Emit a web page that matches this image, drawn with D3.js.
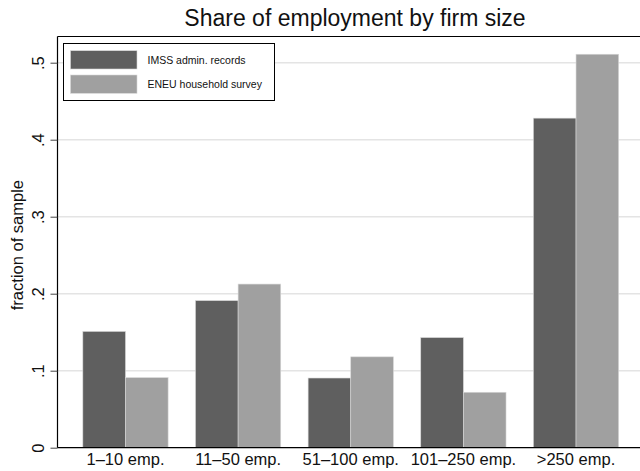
<!DOCTYPE html>
<html>
<head>
<meta charset="utf-8">
<script src="https://cdn.jsdelivr.net/npm/d3@7"></script>
<style>
  html, body { margin: 0; padding: 0; background: #fff; }
  svg { display: block; font-family: "Liberation Sans", Arial, sans-serif; }
</style>
</head>
<body>
<svg id="chart" width="640" height="471"></svg>
<script>
// Firm-size categories and employment shares from the two sources
const categories = ["1\u201310 emp.", "11\u201350 emp.", "51\u2013100 emp.", "101\u2013250 emp.", ">250 emp."];
const seriesNames = ["IMSS admin. records", "ENEU household survey"];
const imssValues = [0.151, 0.191, 0.0905, 0.143, 0.428];
const eneuValues = [0.091, 0.2125, 0.118, 0.072, 0.511];
const yTicks = [0, 0.1, 0.2, 0.3, 0.4, 0.5];
const yTickLabels = ["0", ".1", ".2", ".3", ".4", ".5"];
const seriesColors = ["#5f5f5f", "#a0a0a0"];

const svg = d3.select("#chart");
const W = 640, H = 471;
const plot = { left: 57.5, right: 644, top: 36.5, bottom: 447.7 };

const x = d3.scaleBand()
  .domain(categories)
  .range([plot.left, plot.right])
  .paddingInner(0.243)
  .paddingOuter(0.225);

const xSub = d3.scaleBand()
  .domain(seriesNames)
  .range([0, x.bandwidth()]);

const y = d3.scaleLinear()
  .domain([0, 0.1])
  .range([plot.bottom, plot.bottom - 77]);

// Title
svg.append("text")
  .attr("x", 355)
  .attr("y", 26)
  .attr("text-anchor", "middle")
  .attr("font-size", 23)
  .attr("fill", "#111")
  .text("Share of employment by firm size");

// Horizontal grid lines
svg.append("g")
  .selectAll("line")
  .data(yTicks.filter(t => t > 0))
  .join("line")
  .attr("x1", plot.left)
  .attr("x2", W)
  .attr("y1", d => y(d))
  .attr("y2", d => y(d))
  .attr("stroke", "#e4e4e4")
  .attr("stroke-width", 1.4);

// Top frame line
svg.append("line")
  .attr("x1", plot.left).attr("x2", W)
  .attr("y1", plot.top).attr("y2", plot.top)
  .attr("stroke", "#000").attr("stroke-width", 1.2);

// Bars
const rows = categories.map((c, i) => ({ cat: c, vals: [imssValues[i], eneuValues[i]] }));
const groups = svg.append("g")
  .selectAll("g")
  .data(rows)
  .join("g")
  .attr("transform", d => `translate(${x(d.cat)},0)`);

groups.selectAll("rect")
  .data(d => d.vals.map((v, j) => ({ series: seriesNames[j], v, j })))
  .join("rect")
  .attr("x", d => xSub(d.series))
  .attr("width", xSub.bandwidth())
  .attr("y", d => y(d.v))
  .attr("height", d => y(0) - y(d.v))
  .attr("fill", d => seriesColors[d.j])
  .attr("stroke", "#d8d8d8")
  .attr("stroke-width", 0.6);

// Y axis
const yAxis = d3.axisLeft(y)
  .tickValues(yTicks)
  .tickFormat((d, i) => yTickLabels[i])
  .tickSize(7)
  .tickPadding(0);
const gy = svg.append("g")
  .attr("transform", `translate(${plot.left},0)`)
  .call(yAxis);
gy.select(".domain")
  .attr("d", `M0,${plot.bottom}V${plot.top}`)
  .attr("stroke", "#000").attr("stroke-width", 1.2);
gy.selectAll(".tick line").attr("stroke", "#444").attr("stroke-width", 1);
// rotated tick labels, baseline just left of the tick marks
gy.selectAll(".tick text")
  .attr("dy", null)
  .attr("text-anchor", "middle")
  .attr("font-size", 16.5)
  .attr("fill", "#111")
  .attr("transform", "rotate(-90)")
  .attr("x", 0)
  .attr("y", -14);

// Y axis title
svg.append("text")
  .attr("transform", `translate(22.5,${(plot.top + plot.bottom) / 2 + 3}) rotate(-90)`)
  .attr("text-anchor", "middle")
  .attr("font-size", 16.5)
  .attr("fill", "#111")
  .text("fraction of sample");

// X axis
const xAxis = d3.axisBottom(x).tickSize(0).tickPadding(0);
const gx = svg.append("g")
  .attr("transform", `translate(0,${plot.bottom})`)
  .call(xAxis);
gx.select(".domain")
  .attr("d", `M${plot.left},0H${W}`)
  .attr("stroke", "#000").attr("stroke-width", 1.2);
gx.selectAll(".tick text")
  .attr("font-size", 16.5)
  .attr("fill", "#111")
  .attr("dy", null)
  .attr("y", 17.5);

// Legend
const legend = svg.append("g");
legend.append("rect")
  .attr("x", 63.5).attr("y", 43.5)
  .attr("width", 211).attr("height", 57)
  .attr("fill", "#fff")
  .attr("stroke", "#000").attr("stroke-width", 1);
const items = legend.selectAll("g.item")
  .data(seriesNames)
  .join("g")
  .attr("class", "item")
  .attr("transform", (d, i) => `translate(70.5,${50.7 + i * 24.3})`);
items.append("rect")
  .attr("width", 66.5).attr("height", 18.3)
  .attr("fill", (d, i) => seriesColors[i])
  .attr("stroke", "#d8d8d8").attr("stroke-width", 0.6);
items.append("text")
  .attr("x", 77)
  .attr("y", 13.4)
  .attr("font-size", 10.5)
  .attr("fill", "#111")
  .text(d => d);
</script>
</body>
</html>
